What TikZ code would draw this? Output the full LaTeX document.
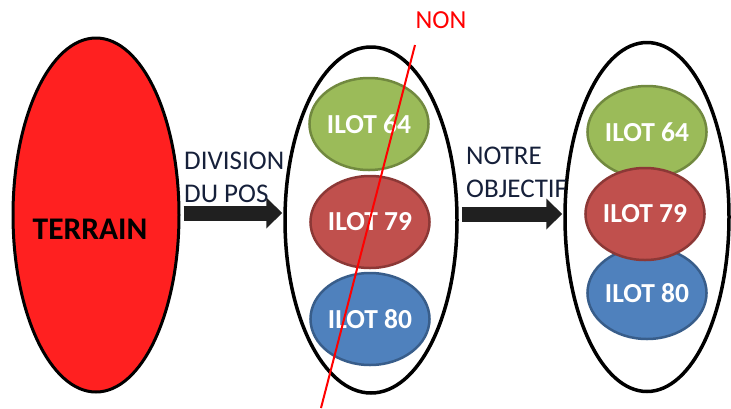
\documentclass[tikz,border=0pt]{standalone}
\usepackage{fontspec}
\setmainfont{Carlito}
\usetikzlibrary{shapes.geometric,arrows.meta}
\definecolor{terrainred}{HTML}{FF2020}
\definecolor{ilotgreen}{HTML}{9BBB59}
\definecolor{ilotgreenline}{HTML}{71893F}
\definecolor{ilotred}{HTML}{C0504D}
\definecolor{ilotredline}{HTML}{8C3836}
\definecolor{ilotblue}{HTML}{4F81BD}
\definecolor{ilotblueline}{HTML}{385D8A}
\definecolor{navytext}{HTML}{16203A}
\definecolor{arrowgray}{HTML}{202020}
\begin{document}
\begin{tikzpicture}[x=1pt, y=-1pt,
  ilot/.style={ellipse, draw, line width=2.5pt, minimum width=104pt, minimum height=92pt, inner sep=0pt, text=white, font=\fontsize{27.5}{30}\selectfont\bfseries},
  groupe/.style={ellipse, draw, line width=3.5pt, inner sep=0pt},
  bigarrow/.style={line width=15pt, arrowgray, -{Triangle[length=16pt, width=30pt]}},
  arrowtext/.style={align=left, inner sep=0pt, text=navytext, font=\fontsize{27}{33}\selectfont}]
\useasboundingbox (0,0) rectangle (731,408);
\node[ellipse, draw, line width=3pt, fill=terrainred, minimum width=166pt, minimum height=354pt, inner sep=0pt] (terrain) at (96,215) {};
\node[inner sep=0pt, font=\fontsize{31.5}{34}\selectfont\bfseries] (terraintext) at ([xshift=-6pt, yshift=-14pt]terrain.center) {TERRAIN};
\node[groupe, minimum width=172pt, minimum height=346pt] (pos) at (371,220) {};
\node[groupe, minimum width=164pt, minimum height=349pt] (goal) at (647,217) {};
\node[ilot, fill=ilotgreen, draw=ilotgreenline] (pos64) at (369,124) {ILOT 64};
\node[ilot, fill=ilotred, draw=ilotredline] (pos79) at (370,222) {ILOT 79};
\node[ilot, fill=ilotblue, draw=ilotblueline] (pos80) at (370,319) {ILOT 80};
\node[ilot, fill=ilotgreen, draw=ilotgreenline] (goal64) at (647,132) {ILOT 64};
\node[ilot, fill=ilotblue, draw=ilotblueline] (goal80) at (647,293) {ILOT 80};
\node[ilot, fill=ilotred, draw=ilotredline] (goal79) at (645,214) {ILOT 79};
\draw[bigarrow, shorten <=3pt, shorten >=1pt] ([yshift=2pt]terrain.east) -- ([yshift=2pt]terrain.east -| pos.west);
\draw[bigarrow, shorten <=3pt, shorten >=1pt] ([yshift=6pt]pos.east) -- ([yshift=6pt]pos.east -| goal.west);
\node[arrowtext, anchor=base west] (division) at (184,202) {DIVISION\\DU POS};
\node[arrowtext, anchor=base west] (objectif) at (466,197) {NOTRE\\OBJECTIF};
\node[text=red, inner sep=0pt, font=\fontsize{26}{30}\selectfont] (non) at (441,20) {NON};
\coordinate (cutA) at (415,45);
\coordinate (cutB) at (321,408);
\draw[red, line width=2pt] (cutA) -- (cutB);
\end{tikzpicture}
\end{document}
